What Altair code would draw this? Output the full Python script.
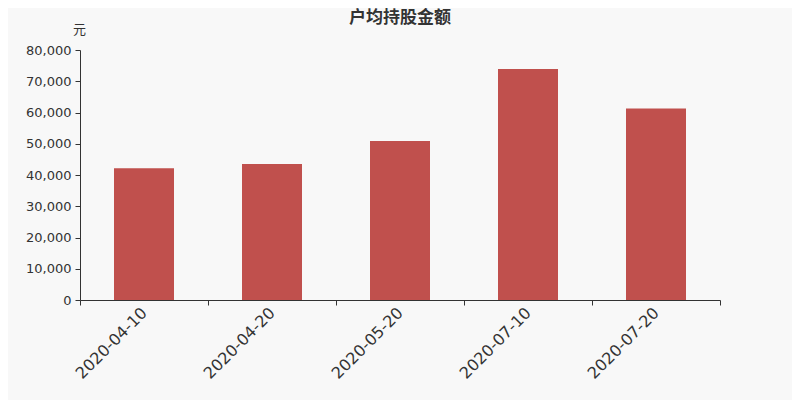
import altair as alt
import pandas as pd

dates = ["2020-04-10", "2020-04-20", "2020-05-20", "2020-07-10", "2020-07-20"]
values = [42200, 43500, 50900, 73900, 61300]

df = pd.DataFrame({"date": dates, "value": values})

FONT = "DejaVu Sans, Noto Sans CJK SC"

chart = alt.Chart(df).mark_bar(size=60, color="#c0504d").encode(
    x=alt.X("date:N", sort=None, title=None,
            scale=alt.Scale(paddingInner=0, paddingOuter=0),
            axis=alt.Axis(labelAngle=-45, labelAlign="right", labelBaseline="middle",
                          labelFontSize=16, labelColor="#333333", labelPadding=5,
                          tickBand="extent", tickSize=5, tickColor="#333333",
                          domainColor="#333333", labelFont=FONT)),
    y=alt.Y("value:Q", title="元",
            scale=alt.Scale(domain=[0, 80000], nice=False),
            axis=alt.Axis(values=[0, 10000, 20000, 30000, 40000, 50000, 60000, 70000, 80000],
                          format=",.0f", grid=False, labelFontSize=13, labelColor="#333333",
                          tickSize=5, tickColor="#333333", domainColor="#333333",
                          labelPadding=4, labelFont=FONT,
                          titleAngle=0, titleX=-1, titleY=-21, titleAlign="center",
                          titleBaseline="middle", titleFontSize=13, titleFontWeight="normal",
                          titleColor="#333333", titleFont=FONT)),
).properties(
    width=640, height=250,
    title=alt.TitleParams("户均持股金额", fontSize=17, fontWeight="bold", color="#333333",
                          font=FONT, anchor="middle", offset=-4, frame="group"),
    autosize=alt.AutoSizeParams(type="none"),
    padding={"left": 72, "top": 42, "right": 72, "bottom": 100},
    background="#f8f8f8",
).configure_view(stroke=None)

chart.save("out.html", embed_options={"renderer": "svg", "actions": False})
